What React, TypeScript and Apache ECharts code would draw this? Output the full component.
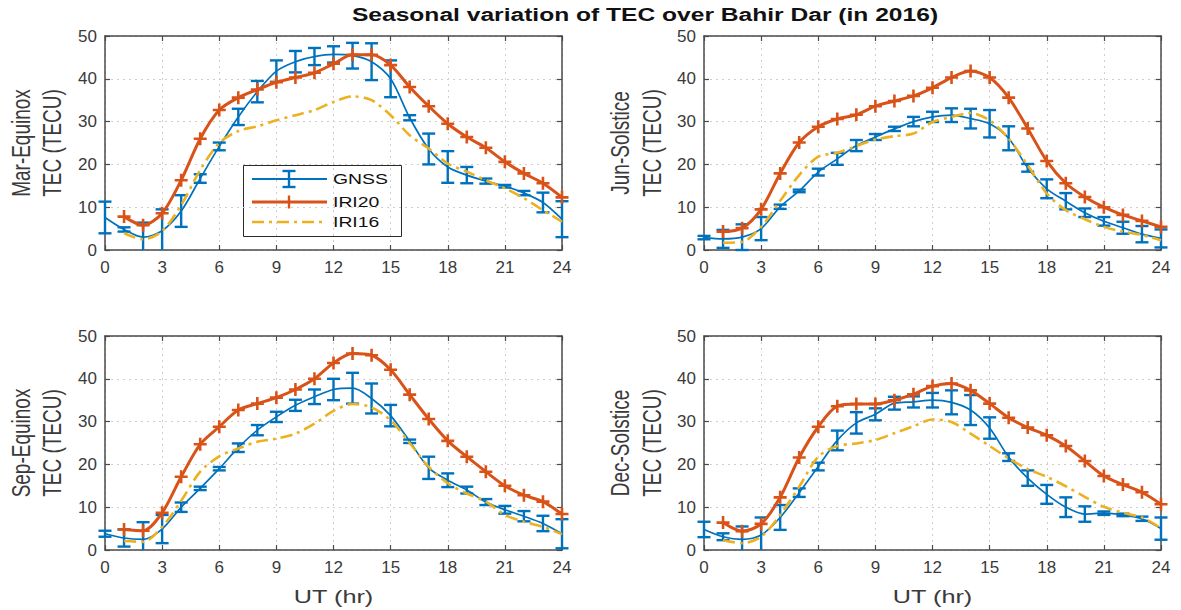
import React, { useEffect, useRef } from "react";
import * as echarts from "echarts";

// ---------------- data ----------------
const HOURS = [0, 1, 2, 3, 4, 5, 6, 7, 8, 9, 10, 11, 12, 13, 14, 15, 16, 17, 18, 19, 20, 21, 22, 23, 24];
const IRI_HOURS = [1, 2, 3, 4, 5, 6, 7, 8, 9, 10, 11, 12, 13, 14, 15, 16, 17, 18, 19, 20, 21, 22, 23, 24];
const X_TICKS = [0, 3, 6, 9, 12, 15, 18, 21, 24];
const Y_TICKS = [0, 10, 20, 30, 40, 50];

const marGnss = [7.6, 4.8, 3.0, 4.5, 9.1, 16.7, 24.2, 31.1, 37.0, 41.8, 44.0, 45.2, 45.7, 45.4, 44.0, 40.0, 30.9, 23.6, 19.4, 17.5, 16.1, 14.9, 13.3, 11.1, 7.2];
const marGnssErr = [3.7, 0.5, 3.4, 5.0, 3.7, 1.0, 0.9, 1.9, 2.5, 2.5, 2.5, 2.0, 1.9, 3.0, 4.3, 4.3, 0.6, 3.6, 3.7, 1.9, 0.6, 0.3, 0.5, 2.3, 4.2];
const marIri20 = [7.8, 5.8, 8.6, 16.3, 26.0, 32.7, 35.6, 37.5, 39.2, 40.3, 41.4, 43.5, 45.6, 45.6, 43.2, 38.1, 33.6, 29.5, 26.4, 23.9, 20.6, 17.9, 15.6, 12.3];
const marIri16 = [3.9, 2.5, 4.4, 10.5, 18.7, 25.0, 27.8, 28.9, 30.3, 31.5, 32.7, 34.6, 35.9, 35.0, 31.5, 26.8, 23.7, 20.2, 18.3, 16.3, 14.4, 12.1, 9.3, 6.6];

const junGnss = [2.9, 2.6, 3.0, 5.0, 10.1, 13.8, 18.2, 21.3, 24.4, 26.4, 28.3, 30.0, 31.1, 31.5, 30.7, 29.5, 26.1, 19.2, 14.3, 11.4, 8.7, 6.7, 5.2, 3.7, 2.7];
const junGnssErr = [0.4, 2.1, 3.0, 2.7, 0.5, 0.3, 0.8, 1.4, 1.3, 0.7, 0.5, 1.1, 1.2, 1.6, 2.3, 3.2, 2.8, 0.9, 2.2, 1.9, 1.0, 1.0, 1.4, 1.9, 2.1];
const junIri20 = [4.3, 5.1, 9.5, 17.9, 25.1, 28.8, 30.6, 31.6, 33.6, 34.8, 36.0, 37.9, 40.3, 41.8, 40.3, 35.6, 28.4, 20.8, 15.6, 12.4, 10.0, 8.2, 6.8, 5.4];
const junIri16 = [1.7, 1.9, 5.4, 11.5, 17.5, 21.8, 22.7, 24.3, 25.8, 26.6, 27.2, 29.9, 31.1, 32.0, 30.3, 26.0, 19.8, 13.2, 9.3, 7.2, 5.4, 4.3, 3.5, 2.3];

const sepGnss = [3.8, 2.8, 2.5, 4.9, 10.0, 14.4, 19.0, 23.9, 28.0, 31.1, 33.8, 35.8, 37.5, 37.8, 35.4, 31.4, 25.4, 19.2, 16.3, 14.0, 11.2, 9.4, 7.9, 6.2, 3.8];
const sepGnssErr = [0.7, 2.0, 4.0, 3.3, 1.1, 0.4, 0.4, 1.0, 1.2, 1.2, 1.3, 1.7, 2.5, 3.6, 3.5, 2.5, 0.4, 2.6, 1.6, 0.8, 0.7, 0.9, 1.2, 1.8, 3.4];
const sepIri20 = [4.8, 4.5, 8.7, 17.1, 24.7, 28.8, 32.7, 34.2, 35.6, 37.5, 40.0, 43.7, 45.9, 45.5, 42.1, 36.3, 30.6, 25.5, 21.8, 18.3, 15.0, 12.8, 11.3, 8.4];
const sepIri16 = [2.1, 1.9, 5.4, 11.5, 18.3, 21.9, 23.7, 25.3, 26.0, 27.2, 29.5, 32.5, 34.1, 33.3, 30.3, 25.0, 19.4, 15.6, 13.2, 11.3, 8.2, 6.6, 5.4, 3.7];

const decGnss = [4.8, 3.1, 2.5, 3.5, 7.6, 13.4, 19.5, 25.6, 29.7, 31.7, 34.3, 34.6, 35.0, 34.5, 32.7, 28.5, 21.7, 16.8, 13.0, 10.0, 8.4, 8.6, 8.2, 7.3, 5.0];
const decGnssErr = [1.8, 0.8, 3.0, 4.1, 2.9, 1.0, 0.9, 2.3, 2.5, 1.4, 1.5, 1.3, 1.7, 2.8, 3.5, 2.5, 0.9, 1.8, 2.2, 2.3, 1.8, 0.4, 0.3, 0.5, 2.6];
const decIri20 = [6.4, 4.4, 6.1, 12.3, 21.6, 28.8, 33.6, 34.1, 34.1, 35.0, 36.4, 38.3, 38.9, 37.3, 34.2, 30.9, 28.6, 26.8, 24.3, 20.8, 17.3, 15.3, 13.5, 10.7];
const decIri16 = [2.3, 1.6, 3.1, 8.2, 14.8, 21.8, 24.3, 24.9, 25.7, 27.3, 28.9, 30.5, 29.9, 27.2, 24.3, 21.4, 18.9, 17.1, 14.9, 12.4, 10.1, 8.7, 7.6, 5.1];

const SEASONS = ["Mar-Equinox", "Jun-Solstice", "Sep-Equinox", "Dec-Solstice"];
const GNSS = [marGnss, junGnss, sepGnss, decGnss];
const GNSS_ERR = [marGnssErr, junGnssErr, sepGnssErr, decGnssErr];
const IRI20 = [marIri20, junIri20, sepIri20, decIri20];
const IRI16 = [marIri16, junIri16, sepIri16, decIri16];

const TITLE = "Seasonal variation of TEC over Bahir Dar (in 2016)";
const Y_NAME = "TEC (TECU)";
const X_NAME = "UT (hr)";
const LEGEND_NAMES = ["GNSS", "IRI20", "IRI16"];

// ---------------- style ----------------
const C_GNSS = "#0072BD";
const C_IRI20 = "#D95319";
const C_IRI16 = "#EDB120";
const AXIS_C = "#4a4a4a";
const TEXT_C = "#3a3a3a";
const FONT = '"Liberation Sans", Arial, sans-serif';
const CROSS = "path://M-1.2,-6H1.2V-1.2H6V1.2H1.2V6H-1.2V1.2H-6V-1.2H-1.2Z";
const DASH = [12, 5, 3, 5];

const GRID_LEFT = [105, 704, 105, 704];
const GRID_TOP = [36, 36, 336, 336];
const GRID_W = 457;
const GRID_H = 214;
const SX = 1.33;

export default function App() {
  const ref = useRef<HTMLDivElement>(null);

  useEffect(() => {
    if (!ref.current) return;
    const chart = echarts.init(ref.current, undefined, { renderer: "svg" });

    const grids: any[] = [];
    const xAxes: any[] = [];
    const yAxes: any[] = [];
    const series: any[] = [];
    const graphics: any[] = [];

    const axisLine = { show: true, onZero: false, lineStyle: { color: AXIS_C, width: 1.5 } };
    const axisTick = { show: true, inside: true, length: 5, lineStyle: { color: AXIS_C, width: 1.2 } };
    const split = { show: true, lineStyle: { color: "#cfcfcf", type: [2, 4], width: 1 } };
    const label = { fontSize: 17, color: TEXT_C, fontFamily: FONT };

    for (let i = 0; i < 4; i++) {
      grids.push({ left: GRID_LEFT[i], top: GRID_TOP[i], width: GRID_W, height: GRID_H, containLabel: false });
      xAxes.push({
        type: "value", gridIndex: i, min: X_TICKS[0], max: X_TICKS[X_TICKS.length - 1], interval: 3,
        axisLine, axisTick, splitLine: split,
        axisLabel: { ...label, margin: 9 },
      });
      xAxes.push({
        type: "value", gridIndex: i, position: "top", min: 0, max: 24, interval: 3,
        axisLine, axisTick, splitLine: { show: false }, axisLabel: { show: false },
      });
      yAxes.push({
        type: "value", gridIndex: i, min: Y_TICKS[0], max: Y_TICKS[Y_TICKS.length - 1], interval: 10,
        axisLine, axisTick, splitLine: split,
        axisLabel: { ...label, margin: 8 },
      });
      yAxes.push({
        type: "value", gridIndex: i, position: "right", min: 0, max: 50, interval: 10,
        axisLine, axisTick, splitLine: { show: false }, axisLabel: { show: false },
      });

      const gnss = GNSS[i];
      const err = GNSS_ERR[i];
      series.push({
        type: "custom",
        name: "GNSS",
        xAxisIndex: 2 * i,
        yAxisIndex: 2 * i,
        z: 3,
        data: HOURS.map((h, k) => [h, gnss[k], err[k]]),
        renderItem: (params: any, api: any) => {
          const x = api.value(0);
          const y = api.value(1);
          const e = api.value(2);
          const hi = Math.min(y + e, 50);
          const lo = Math.max(y - e, 0);
          const pHi = api.coord([x, hi]);
          const pLo = api.coord([x, lo]);
          const cw = 6.5;
          const st = { stroke: C_GNSS, lineWidth: 2.4 };
          const children: any[] = [
            { type: "line", shape: { x1: pHi[0], y1: pHi[1], x2: pLo[0], y2: pLo[1] }, style: st },
          ];
          if (y + e <= 50) children.push({ type: "line", shape: { x1: pHi[0] - cw, y1: pHi[1], x2: pHi[0] + cw, y2: pHi[1] }, style: st });
          if (y - e >= 0) children.push({ type: "line", shape: { x1: pLo[0] - cw, y1: pLo[1], x2: pLo[0] + cw, y2: pLo[1] }, style: st });
          return { type: "group", children };
        },
      });
      series.push({
        type: "line", name: "GNSS", xAxisIndex: 2 * i, yAxisIndex: 2 * i, z: 3,
        data: HOURS.map((h, k) => [h, gnss[k]]),
        smooth: 0.3, showSymbol: false, symbol: "none",
        lineStyle: { color: C_GNSS, width: 1.7 },
      });
      series.push({
        type: "line", name: "IRI20", xAxisIndex: 2 * i, yAxisIndex: 2 * i, z: 4,
        data: IRI_HOURS.map((h, k) => [h, IRI20[i][k]]),
        smooth: 0.3, symbol: CROSS, symbolSize: 13, showSymbol: true,
        itemStyle: { color: C_IRI20 },
        lineStyle: { color: C_IRI20, width: 3 },
      });
      series.push({
        type: "line", name: "IRI16", xAxisIndex: 2 * i, yAxisIndex: 2 * i, z: 5,
        data: IRI_HOURS.map((h, k) => [h, IRI16[i][k]]),
        smooth: 0.3, showSymbol: false, symbol: "none",
        lineStyle: { color: C_IRI16, width: 2.6, type: DASH },
      });

      // y-axis names (two rotated lines)
      const left = i % 2 === 0;
      const cy = GRID_TOP[i] + GRID_H / 2;
      const x1 = left ? 22 : 621;
      const x2 = left ? 53 : 653;
      graphics.push({
        type: "text", x: x1, y: cy, rotation: Math.PI / 2, scaleY: SX, z: 50,
        style: { text: SEASONS[i], fontSize: 19, fontFamily: FONT, fill: TEXT_C, align: "center", verticalAlign: "middle" },
      });
      graphics.push({
        type: "text", x: x2, y: cy, rotation: Math.PI / 2, scaleY: SX, z: 50,
        style: { text: Y_NAME, fontSize: 19, fontFamily: FONT, fill: TEXT_C, align: "center", verticalAlign: "middle" },
      });
      if (i >= 2) {
        graphics.push({
          type: "text", x: GRID_LEFT[i] + GRID_W / 2, y: 597, scaleX: SX, z: 50,
          style: { text: X_NAME, fontSize: 19, fontFamily: FONT, fill: TEXT_C, align: "center", verticalAlign: "middle" },
        });
      }
    }

    // title
    graphics.push({
      type: "text", x: 645, y: 15, scaleX: SX, z: 50,
      style: { text: TITLE, fontSize: 18.5, fontWeight: "bold", fontFamily: FONT, fill: "#111", align: "center", verticalAlign: "middle" },
    });

    // legend box
    const lx0 = 252, lx1 = 327, lmid = 289, tx = 333;
    const ly = [179, 202, 222];
    const lt = (t: string, y: number) => ({
      type: "text", x: tx, y, scaleX: 1.25,
      style: { text: t, fontSize: 15.5, fontFamily: FONT, fill: "#111", align: "left", verticalAlign: "middle" },
    });
    graphics.push({
      type: "group", z: 60,
      children: [
        { type: "rect", shape: { x: 243.5, y: 165.5, width: 158, height: 71 }, style: { fill: "#fff", stroke: "#2a2a2a", lineWidth: 1 } },
        { type: "line", shape: { x1: lx0, y1: ly[0], x2: lx1, y2: ly[0] }, style: { stroke: C_GNSS, lineWidth: 1.8 } },
        { type: "line", shape: { x1: lmid, y1: ly[0] - 8, x2: lmid, y2: ly[0] + 8 }, style: { stroke: C_GNSS, lineWidth: 2.4 } },
        { type: "line", shape: { x1: lmid - 6.5, y1: ly[0] - 8, x2: lmid + 6.5, y2: ly[0] - 8 }, style: { stroke: C_GNSS, lineWidth: 2.4 } },
        { type: "line", shape: { x1: lmid - 6.5, y1: ly[0] + 8, x2: lmid + 6.5, y2: ly[0] + 8 }, style: { stroke: C_GNSS, lineWidth: 2.4 } },
        lt(LEGEND_NAMES[0], ly[0]),
        { type: "line", shape: { x1: lx0, y1: ly[1], x2: lx1, y2: ly[1] }, style: { stroke: C_IRI20, lineWidth: 3 } },
        { type: "line", shape: { x1: lmid, y1: ly[1] - 6.5, x2: lmid, y2: ly[1] + 6.5 }, style: { stroke: C_IRI20, lineWidth: 2.4 } },
        lt(LEGEND_NAMES[1], ly[1]),
        { type: "line", shape: { x1: lx0, y1: ly[2], x2: lx1, y2: ly[2] }, style: { stroke: C_IRI16, lineWidth: 2.6, lineDash: DASH } },
        lt(LEGEND_NAMES[2], ly[2]),
      ],
    });

    chart.setOption({
      animation: false,
      backgroundColor: "#ffffff",
      grid: grids,
      xAxis: xAxes,
      yAxis: yAxes,
      series,
      graphic: { elements: graphics },
    });

    return () => chart.dispose();
  }, []);

  return <div ref={ref} style={{ position: "fixed", left: 0, top: 0, width: 1181, height: 610, background: "#fff" }} />;
}
